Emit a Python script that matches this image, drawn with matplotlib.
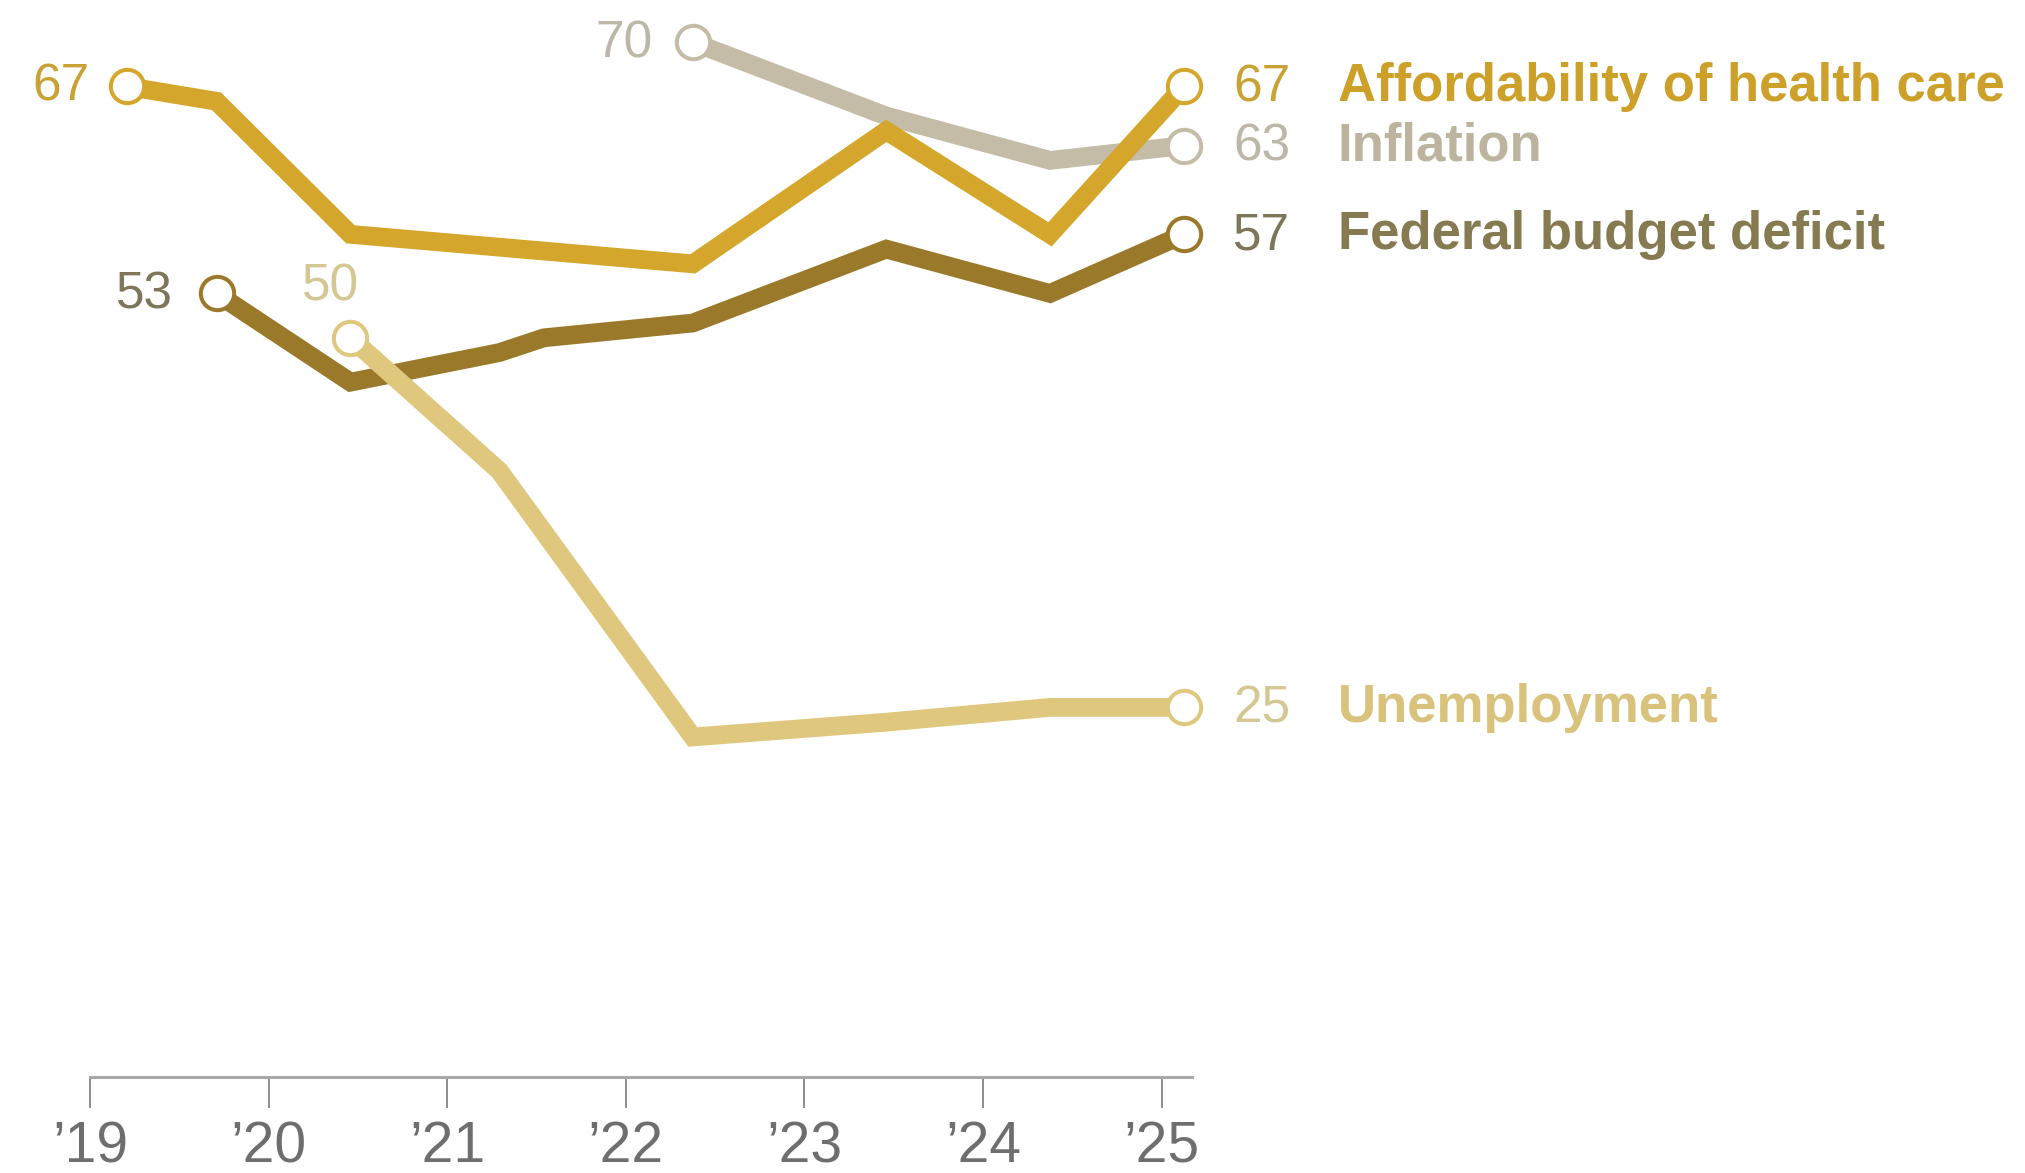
import matplotlib
matplotlib.use("Agg")
import matplotlib.pyplot as plt
from matplotlib import font_manager

# survey waves (year-month) and the share saying each is a very big problem
health_dates = ["2019-03", "2019-09", "2020-06", "2022-05", "2023-06", "2024-05", "2025-02"]
health_vals = [67, 66, 57, 55, 64, 57, 67]

inflation_dates = ["2022-05", "2023-06", "2024-05", "2025-02"]
inflation_vals = [70, 65, 62, 63]

deficit_dates = ["2019-09", "2020-06", "2021-04", "2021-07", "2022-05", "2023-06", "2024-05", "2025-02"]
deficit_vals = [53, 47, 49, 50, 51, 56, 53, 57]

unemp_dates = ["2020-06", "2021-04", "2022-05", "2023-06", "2024-05", "2025-02"]
unemp_vals = [50, 41, 23, 24, 25, 25]

tick_years = [2019, 2020, 2021, 2022, 2023, 2024, 2025]
tick_labels = ["\u201919", "\u201920", "\u201921", "\u201922", "\u201923", "\u201924", "\u201925"]


def to_year(s):
    y, m = s.split("-")
    return int(y) + (int(m) - 0.5) / 12.0


names = {f.name for f in font_manager.fontManager.ttflist}
BOLD_FONT = "Liberation Sans Narrow" if "Liberation Sans Narrow" in names else "Liberation Sans"
NUM_FONT = "Liberation Sans"

series = [
    # name, dates, values, line colour, name colour, number colour, zorder, start label offset
    ("Federal budget deficit", deficit_dates, deficit_vals, "#9a792a", "#857a50", "#7d7659", 2, (-44, -15, "right")),
    ("Inflation", inflation_dates, inflation_vals, "#c4bca6", "#bcb49e", "#bdb7a7", 2, (-40, -15, "right")),
    ("Affordability of health care", health_dates, health_vals, "#d4a62b", "#cda02a", "#c9a235", 3, (-38, -14, "right")),
    ("Unemployment", unemp_dates, unemp_vals, "#dfc77d", "#d8c27c", "#d5c793", 3, (-20, 37, "center")),
]

fig = plt.figure(figsize=(20.25, 11.73), dpi=100)
ax = fig.add_axes([90 / 2025, 96 / 1173, 1102 / 2025, 1077 / 1173])
ax.set_xlim(2019.0, 2025.17)
ax.set_ylim(0, 72.85)

for name, dates, vals, lc, nc, numc, z, (sx, sy, sha) in series:
    xs = [to_year(d) for d in dates]
    ax.plot(xs, vals, color=lc, lw=13.5, zorder=z, solid_joinstyle="miter",
            solid_capstyle="butt", marker="o", markevery=[0, len(xs) - 1],
            markersize=24, markerfacecolor="white", markeredgecolor=lc,
            markeredgewidth=2.9, clip_on=False)
    # first value
    ax.annotate(f"{vals[0]}", (xs[0], vals[0]), xytext=(sx, sy),
                textcoords="offset pixels", ha=sha, va="baseline",
                fontsize=37, color=numc, family=NUM_FONT, annotation_clip=False)
    # last value and series name
    ax.annotate(f"{vals[-1]}", (xs[-1], vals[-1]), xytext=(49, -15),
                textcoords="offset pixels", ha="left", va="baseline",
                fontsize=37, color=numc, family=NUM_FONT, annotation_clip=False)
    ax.annotate(name, (xs[-1], vals[-1]), xytext=(154, -15),
                textcoords="offset pixels", ha="left", va="baseline",
                fontsize=38, color=nc, family=BOLD_FONT, fontweight="bold",
                annotation_clip=False)

for side in ["top", "right", "left"]:
    ax.spines[side].set_visible(False)
ax.spines["bottom"].set_color("#a8a8a8")
ax.spines["bottom"].set_linewidth(2.2)
ax.set_yticks([])
ax.set_xticks(tick_years)
ax.set_xticklabels(tick_labels, fontsize=41, color="#6e6e6e", family=NUM_FONT)
ax.tick_params(axis="x", length=22, width=1.4, color="#8c8c8c", pad=9)

fig.savefig("out.png", dpi=100)
plt.close(fig)
